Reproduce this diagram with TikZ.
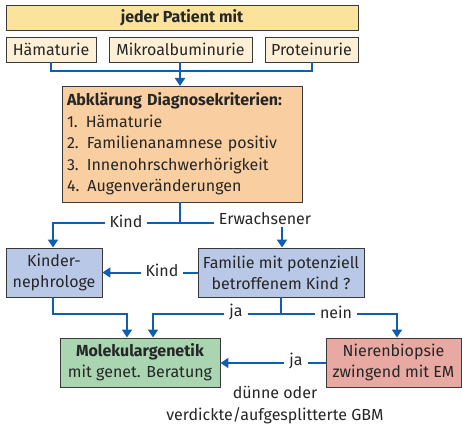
\documentclass[tikz,border=0pt]{standalone}
\usepackage{fontspec}
\setmainfont{Fira Sans}
\usetikzlibrary{arrows.meta}
\definecolor{arrowblue}{HTML}{0E5FAE}
\definecolor{topfill}{HTML}{FBE39E}
\definecolor{symfill}{HTML}{FDF0D6}
\definecolor{abkfill}{HTML}{F9CFA2}
\definecolor{bluefill}{HTML}{B9C8E6}
\definecolor{greenfill}{HTML}{A9D5B1}
\definecolor{pinkfill}{HTML}{E8A9A2}
\definecolor{edge}{HTML}{3A3A3A}
\definecolor{txt}{HTML}{262626}
\tikzset{
  box/.style={draw=edge, line width=0.9pt, rectangle, inner sep=0pt, text=txt, align=center, font=\fontsize{16}{21}\selectfont},
  conn/.style={draw=arrowblue, line width=2pt},
  arr/.style={conn, -{Triangle[width=10pt,length=8pt]}},
  lab/.style={fill=white, inner xsep=5pt, inner ysep=2pt, text=txt, font=\fontsize{16}{18}\selectfont}
}
\begin{document}
\begin{tikzpicture}[x=1pt,y=-1pt]
\useasboundingbox (0,0) rectangle (462,425);
\node[box, fill=topfill, minimum width=352pt, minimum height=25pt, font=\fontsize{16}{18}\selectfont\bfseries] (top) at (182,17.5) {jeder Patient mit};
\node[box, fill=symfill, minimum width=90pt, minimum height=25pt] (ham) at (51,49.5) {Hämaturie};
\node[box, fill=symfill, minimum width=143pt, minimum height=25pt] (mik) at (180.5,49.5) {Mikroalbuminurie};
\node[box, fill=symfill, minimum width=93pt, minimum height=25pt] (pro) at (311.5,49.5) {Proteinurie};
\node[box, fill=abkfill, minimum width=240pt, minimum height=116pt, align=left, text width=230pt, font=\fontsize{16}{21.5}\selectfont] (abk) at (182,144) {\textbf{Abklärung Diagnosekriterien:}\\1. Hämaturie\\2. Familienanamnese positiv\\3. Innenohrschwerhörigkeit\\4. Augenveränderungen};
\node[box, fill=bluefill, minimum width=96pt, minimum height=49pt] (kin) at (54,272.5) {Kinder-\\nephrologe};
\node[box, fill=bluefill, minimum width=166pt, minimum height=49pt] (fam) at (281,272.5) {Familie mit potenziell\\betroffenem Kind ?};
\node[box, fill=greenfill, minimum width=160pt, minimum height=49pt] (mol) at (140,362.5) {\textbf{Molekulargenetik}\\mit genet. Beratung};
\node[box, fill=pinkfill, minimum width=135pt, minimum height=49pt] (nie) at (393.5,362.5) {Nierenbiopsie\\zwingend mit EM};
% symptoms to Abklaerung
\coordinate (jl) at (51,71);
\coordinate (jr) at (312,71);
\draw[conn] (ham.south) -- (jl) -- (jr) -- (jr |- pro.south);
\draw[arr] (180,62) -- (180,86);
% Abklaerung split
\coordinate (sp) at (180,223);
\coordinate (spl) at (53,223);
\coordinate (spr) at (282,223);
\draw[conn] (180,202) -- (sp);
\draw[arr] (sp) -- (spl) -- (spl |- kin.north);
\draw[arr] (sp) -- (spr) -- (spr |- fam.north);
\node[lab] (lk) at (126,221) {Kind};
\node[lab] (le) at (265,219) {Erwachsener};
% Familie -> Kinder
\draw[arr] (fam.west) -- (kin.east);
\node[lab] (lk2) at (162,270) {Kind};
% to Molekular
\coordinate (kb) at (53,314);
\coordinate (kbr) at (127,314);
\draw[arr] (53,297) -- (kb) -- (kbr) -- (kbr |- mol.north);
\coordinate (fb) at (281,314);
\coordinate (fbl) at (153,314);
\coordinate (fbr) at (397,314);
\draw[conn] (fam.south) -- (fb);
\draw[arr] (fb) -- (fbl) -- (fbl |- mol.north);
\draw[arr] (fb) -- (fbr) -- (fbr |- nie.north);
\node[lab] (lj) at (236,312) {ja};
\node[lab] (ln) at (336,312) {nein};
% Nieren -> Molekular
\draw[arr] (nie.west |- 0,363) -- (mol.east |- 0,363);
\node[lab] (lj2) at (296,361) {ja};
\node[text=txt, align=center, font=\fontsize{16}{22}\selectfont] (gbm) at (275,405) {dünne oder\\verdickte/aufgesplitterte GBM};
\end{tikzpicture}
\end{document}
